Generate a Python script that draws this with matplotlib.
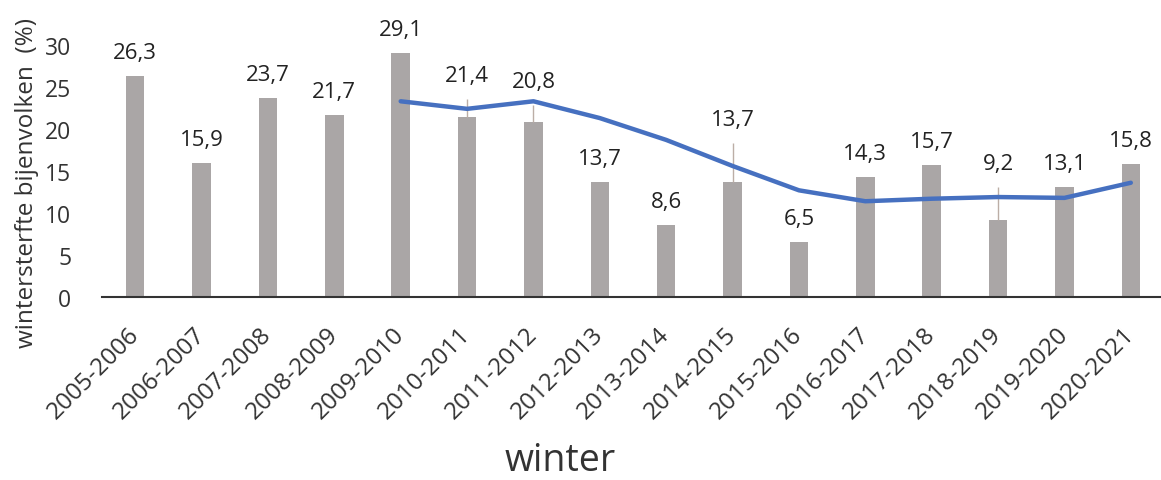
import matplotlib
matplotlib.use("Agg")
from matplotlib import pyplot as plt
import numpy as np

# winters and measured winter losses (%)
winters = ["2005-2006", "2006-2007", "2007-2008", "2008-2009", "2009-2010",
           "2010-2011", "2011-2012", "2012-2013", "2013-2014", "2014-2015",
           "2015-2016", "2016-2017", "2017-2018", "2018-2019", "2019-2020",
           "2020-2021"]
losses = [26.3, 15.9, 23.7, 21.7, 29.1, 21.4, 20.8, 13.7, 8.6, 13.7,
          6.5, 14.3, 15.7, 9.2, 13.1, 15.8]

# upper error bars (0 = none)
errUp = [0, 0, 0, 0, 0, 2.2, 2.0, 0, 0, 4.6, 0, 0, 0, 3.9, 0, 0]

# trend line (starts at 2009-2010)
trendStart = 4
trend = [23.3, 22.4, 23.3, 21.3, 18.7, 15.6, 12.7, 11.4, 11.7, 11.9, 11.8, 13.6]

plt.rcParams['font.family'] = ['Open Sans', 'DejaVu Sans']

W, H = 1161, 481
fig = plt.figure(figsize=(W / 100, H / 100), dpi=100)
ax = fig.add_axes([102 / W, (H - 298) / H, 1062 / W, 252 / H])

x = np.arange(len(winters))
ax.bar(x, losses, width=0.28, color="#aaa6a6", zorder=2)

# thin error bars (only upwards)
errX = [i for i in x if errUp[i] > 0]
errY = [losses[i] for i in errX]
errV = [errUp[i] for i in errX]
ax.errorbar(errX, errY, yerr=[[0] * len(errX), errV], fmt="none",
            ecolor="#bcaea6", elinewidth=1.0, capsize=0, zorder=2.5)

ax.plot(x[trendStart:], trend, color="#4670c0", linewidth=3.2,
        solid_joinstyle="round", solid_capstyle="round", zorder=3)

for i, v in enumerate(losses):
    top = v + errUp[i]
    ax.annotate("{:.1f}".format(v).replace(".", ","), (i, top),
                xytext=(0, 13), textcoords="offset points",
                ha="center", va="baseline", fontsize=16, color="#222222",
                annotation_clip=False)

ax.set_xlim(-0.5, len(winters) - 0.5)
ax.set_ylim(0, 30)
ax.set_yticks(range(0, 31, 5))
ax.set_xticks(x)
ax.set_xticklabels(winters, rotation=45, ha="right", va="center",
                   rotation_mode="anchor", fontsize=17.5, color="#333333")
ax.tick_params(axis="y", length=0, pad=22, labelsize=16.5, labelcolor="#333333")
ax.tick_params(axis="x", length=0, pad=24)

for side in ["top", "right", "left"]:
    ax.spines[side].set_visible(False)
ax.spines["bottom"].set_color("#333333")
ax.spines["bottom"].set_linewidth(1.5)
ax.spines["bottom"].set_zorder(4)

fig.text(27 / W, 1 - 183 / H, "wintersterfte bijenvolken  (%)", rotation=90,
         ha="center", va="center", fontsize=17.5, color="#333333")
fig.text(560 / W, 1 - 471 / H, "winter", ha="center", va="baseline",
         fontsize=27, color="#333333")

fig.savefig("out.png", dpi=100)
